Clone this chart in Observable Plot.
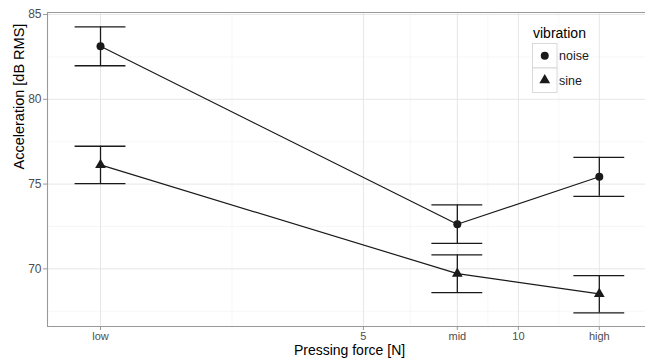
<!DOCTYPE html>
<html>
<head>
<meta charset="utf-8">
<script src="https://cdn.jsdelivr.net/npm/d3@7"></script>
<script src="https://cdn.jsdelivr.net/npm/@observablehq/plot@0.6"></script>
<style>
  html, body { margin: 0; padding: 0; background: #fff; }
  #chart { width: 645px; height: 359px; overflow: hidden; }
</style>
</head>
<body>
<div id="chart"></div>
<script>
// ---- data ----
const levels = ["low", "mid", "high"];
const forceValues = [-3.48, 8.03, 12.61];
const series = ["noise", "sine"];
const noiseMean = [83.13, 72.63, 75.43];
const noiseLow  = [81.98, 71.50, 74.28];
const noiseHigh = [84.27, 73.77, 76.58];
const sineMean  = [76.13, 69.72, 68.52];
const sineLow   = [75.03, 68.60, 67.40];
const sineHigh  = [77.23, 70.82, 69.60];
const xTickValues = [-3.48, 5, 8.03, 10, 12.61];
const xTickLabels = ["low", "5", "mid", "10", "high"];
const yTickValues = [70, 75, 80, 85];
const xDomain = [-5.19, 14.10];
const yDomain = [66.6, 85.12];

const rows = [];
levels.forEach((lv, i) => {
  rows.push({level: lv, force: forceValues[i], vibration: "noise", mean: noiseMean[i], lo: noiseLow[i], hi: noiseHigh[i]});
  rows.push({level: lv, force: forceValues[i], vibration: "sine", mean: sineMean[i], lo: sineLow[i], hi: sineHigh[i]});
});

const capHalf = 0.82; // errorbar half width (data units)
const xMinor = d3.pairs(xTickValues).map(([a, b]) => (a + b) / 2);
const yMinor = [yTickValues[0] - 2.5, ...d3.pairs(yTickValues).map(([a, b]) => (a + b) / 2)];
const labelMap = new Map(xTickValues.map((v, i) => [v, xTickLabels[i]]));
const ink = "#1a1a1a";

const chart = Plot.plot({
  width: 645,
  height: 359,
  marginLeft: 47,
  marginRight: 0,
  marginTop: 12,
  marginBottom: 33,
  style: {fontFamily: "'Liberation Sans', Arial, sans-serif", fontSize: "11.5px", background: "#fff", overflow: "visible"},
  x: {type: "linear", domain: xDomain},
  y: {domain: yDomain},
  symbol: {domain: series, range: ["circle", "triangle"]},
  marks: [
    Plot.gridX(xMinor, {stroke: "#f2f2f2", strokeOpacity: 1, strokeWidth: 0.6}),
    Plot.gridY(yMinor, {stroke: "#f2f2f2", strokeOpacity: 1, strokeWidth: 0.6}),
    Plot.gridX(xTickValues, {stroke: "#e6e6e6", strokeOpacity: 1, strokeWidth: 1}),
    Plot.gridY(yTickValues, {stroke: "#e6e6e6", strokeOpacity: 1, strokeWidth: 1}),
    Plot.ruleX([xDomain[0]], {stroke: "#999", strokeWidth: 1.1}),
    Plot.ruleY(yDomain, {stroke: "#999", strokeWidth: 1.1}),
    Plot.axisY({ticks: yTickValues, tickSize: 4, tickPadding: 2, stroke: "#999", fill: "#4d4d4d", label: null, fontSize: 12}),
    Plot.axisX({ticks: xTickValues, tickFormat: d => labelMap.get(d), tickSize: 4, tickPadding: 2, stroke: "#999", fill: "#4d4d4d", label: null, fontSize: 11}),
    Plot.text(["Acceleration [dB RMS]"], {frameAnchor: "left", rotate: -90, dx: -28, fontSize: 14.5, fill: "#000"}),
    Plot.text(["Pressing force [N]"], {frameAnchor: "bottom", lineAnchor: "bottom", dy: 28.5, dx: 3, fontSize: 14, fill: "#000"}),
    Plot.line(rows, {x: "force", y: "mean", z: "vibration", stroke: ink, strokeWidth: 1.2}),
    Plot.ruleX(rows, {x: "force", y1: "lo", y2: "hi", stroke: ink, strokeWidth: 1.3}),
    Plot.ruleY(rows, {y: "lo", x1: d => d.force - capHalf, x2: d => d.force + capHalf, stroke: ink, strokeWidth: 1.3}),
    Plot.ruleY(rows, {y: "hi", x1: d => d.force - capHalf, x2: d => d.force + capHalf, stroke: ink, strokeWidth: 1.3}),
    Plot.dot(rows, {x: "force", y: "mean", symbol: "vibration", fill: ink, stroke: "none", r: 4})
  ]
});

// legend inside the panel (top-right)
const svg = d3.select(chart);
const lg = svg.append("g")
  .attr("font-family", "'Liberation Sans', Arial, sans-serif")
  .attr("text-anchor", "start");
lg.append("text").attr("x", 533).attr("y", 38).attr("font-size", 14).attr("fill", "#000").text("vibration");
series.forEach((s, i) => {
  const y0 = 43.5 + i * 24.5;
  lg.append("rect").attr("x", 532.5).attr("y", y0).attr("width", 24.5).attr("height", 24.5)
    .attr("fill", "#fff").attr("stroke", "#d0d0d0").attr("stroke-width", 0.8);
  const sym = d3.symbol(s === "noise" ? d3.symbolCircle : d3.symbolTriangle, 4 * 4 * Math.PI);
  lg.append("path").attr("d", sym()).attr("transform", `translate(544.75,${y0 + 12.25})`).attr("fill", ink);
  lg.append("text").attr("x", 559).attr("y", y0 + 12.25).attr("dy", "0.35em").attr("font-size", 12.5).attr("fill", "#1a1a1a").text(s);
});

document.getElementById("chart").appendChild(chart);
</script>
</body>
</html>
